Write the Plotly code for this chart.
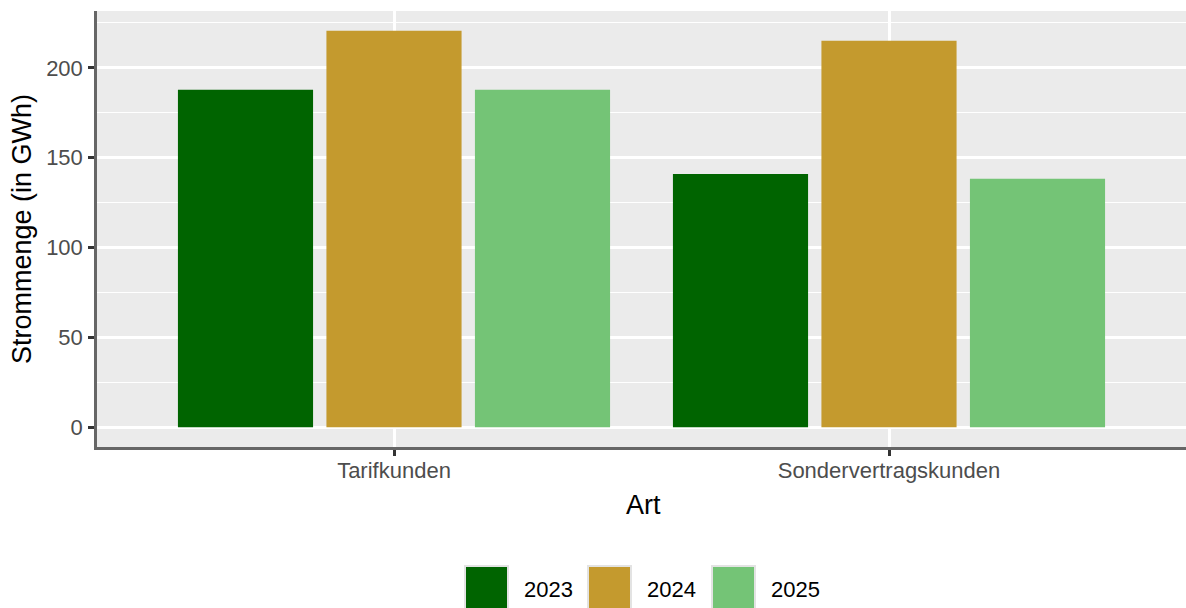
import plotly.graph_objects as go

categories = ["Tarifkunden", "Sondervertragskunden"]
years = ["2023", "2024", "2025"]
values_2023 = [187.8, 140.9]
values_2024 = [220.6, 215.1]
values_2025 = [187.8, 138.3]
series = [values_2023, values_2024, values_2025]
colors = ["#006400", "#C49A2E", "#74C476"]
y_ticks = [0, 50, 100, 150, 200]

W, H = 1186, 608
L, R, T, B = 97, 0, 11, 161
PW = W - L - R
PH = H - T - B
FONT = "Liberation Sans, Arial, sans-serif"


def px_x(x):
    return (x - L) / PW


def px_y(y):
    return (H - B - y) / PH


fig = go.Figure()
for yr, vals, col in zip(years, series, colors):
    fig.add_trace(go.Bar(x=categories, y=vals, name=yr, marker_color=col,
                         marker_line_width=0, showlegend=False))

ymax = max(max(s) for s in series)
fig.update_layout(
    width=W, height=H,
    margin=dict(l=L, r=R, t=T, b=B, pad=0),
    paper_bgcolor="white",
    plot_bgcolor="#EBEBEB",
    barmode="group",
    bargap=0.1,
    bargroupgap=0.09,
    font=dict(family=FONT, color="#4D4D4D"),
    xaxis=dict(
        type="category", range=[-0.6, 1.6],
        showgrid=True, gridcolor="white", gridwidth=2.7,
        showline=True, linecolor="#666666", linewidth=2.5,
        ticks="outside", ticklen=6, tickwidth=2.5, tickcolor="#333333",
        tickfont=dict(size=22, color="#4D4D4D", family=FONT),
        ticklabelstandoff=-4,
        zeroline=False,
    ),
    yaxis=dict(
        range=[-ymax * 0.05, ymax * 1.05],
        tickvals=y_ticks,
        showgrid=True, gridcolor="white", gridwidth=2.7,
        minor=dict(dtick=25, tick0=0, showgrid=True, gridcolor="white",
                   gridwidth=1.3, ticks=""),
        showline=True, linecolor="#666666", linewidth=2.5,
        ticks="outside", ticklen=6, tickwidth=2.5, tickcolor="#333333",
        tickfont=dict(size=22, color="#4D4D4D", family=FONT),
        ticklabelstandoff=1,
        zeroline=False,
    ),
)

annotations = [
    dict(text="Art", xref="paper", yref="paper", x=px_x(643), y=px_y(505),
         xanchor="center", yanchor="middle", showarrow=False,
         font=dict(size=27, color="black", family=FONT)),
    dict(text="Strommenge (in GWh)", xref="paper", yref="paper", x=px_x(22),
         y=px_y(229), xanchor="center", yanchor="middle", textangle=-90,
         showarrow=False, font=dict(size=27, color="black", family=FONT)),
]
shapes = []
key_x = [465, 588, 712]
for yr, col, kx in zip(years, colors, key_x):
    shapes.append(dict(type="rect", xref="paper", yref="paper",
                       x0=px_x(kx), x1=px_x(kx + 43), y0=px_y(609), y1=px_y(566),
                       fillcolor=col, line=dict(color="#E3E3E3", width=2)))
    annotations.append(dict(text=yr, xref="paper", yref="paper", x=px_x(kx + 57),
                            y=px_y(590), xanchor="left", yanchor="middle",
                            showarrow=False,
                            font=dict(size=22, color="black", family=FONT)))
fig.update_layout(annotations=annotations, shapes=shapes)

fig.write_html("out.html",
               config={"displayModeBar": False},
               post_script="document.body.style.margin='0px';document.body.style.overflow='hidden';")
